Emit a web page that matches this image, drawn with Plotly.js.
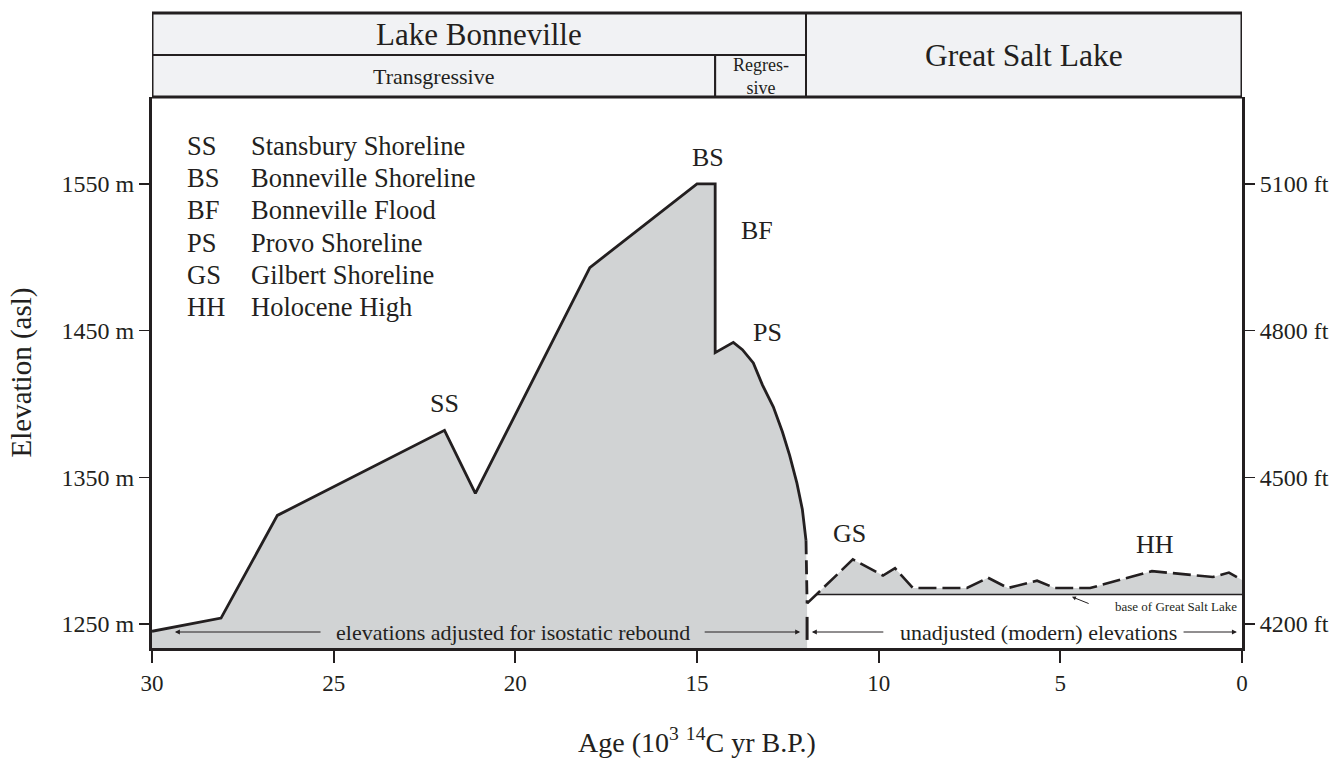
<!DOCTYPE html>
<html><head><meta charset="utf-8">
<script src="https://cdn.plot.ly/plotly-3.0.1.min.js"></script>
<style>body{margin:0;background:#fff}#chart{width:1338px;height:765px}</style>
</head><body><div id="chart"></div>
<script>
// ---------------- data ----------------
const bonnevilleAge  = [30, 28.1, 26.55, 21.95, 21.1, 17.95, 15.0, 14.5, 14.5, 14.0, 13.75, 13.45, 13.2, 12.9, 12.65, 12.45, 12.25, 12.1, 12.0];
const bonnevilleElev = [1245, 1254, 1324, 1382, 1339, 1493, 1550, 1550, 1435, 1442, 1437, 1428, 1413, 1398, 1381, 1365, 1346, 1328, 1307];
const bonnevilleTailAge  = [12.0, 11.98, 11.97];
const bonnevilleTailElev = [1307, 1287, 1264];
const gslAge  = [11.97, 10.71, 9.88, 9.55, 9.06, 7.57, 6.99, 6.44, 5.64, 5.15, 4.18, 2.48, 0.8, 0.36, 0];
const gslElev = [1264, 1294, 1283, 1288, 1274.5, 1274.5, 1281.5, 1274.5, 1279.5, 1274.5, 1274.5, 1286, 1282, 1285, 1280];
const gslBaseElev = 1270;
const xTicks  = [30, 25, 20, 15, 10, 5, 0];
const mTicks  = [1250, 1350, 1450, 1550];
const ftTicks = [4200, 4500, 4800, 5100];
const legendCodes = ['SS', 'BS', 'BF', 'PS', 'GS', 'HH'];
const legendNames = ['Stansbury Shoreline', 'Bonneville Shoreline', 'Bonneville Flood', 'Provo Shoreline', 'Gilbert Shoreline', 'Holocene High'];
const eventLabels = ['SS', 'BS', 'BF', 'PS', 'GS', 'HH'];
const phaseBounds = {lakeStart: 30, regressStart: 14.5, gslStart: 12, end: 0};

// ---------------- layout helpers ----------------
const INK = '#231f20';
const FILL = '#d1d3d4';
const HEAD = '#f1f2f4';
const FONT = 'Liberation Serif';
const yRange = [1233.6, 1609.3];
const m2ft = m => 4200 + (m - 1250) * 3;

const eventPos = [[21.96, 1400], [14.7, 1568], [13.35, 1518.6], [13.05, 1449], [10.79, 1312], [2.4, 1304.5]];

// crossing of GSL curve with base line
const t = (gslBaseElev - gslElev[0]) / (gslElev[1] - gslElev[0]);
const crossX = gslAge[0] + t * (gslAge[1] - gslAge[0]);
const clipX = [crossX].concat(gslAge.slice(1));
const clipY = [gslBaseElev].concat(gslElev.slice(1));

const traces = [
  {x: bonnevilleAge.concat(bonnevilleTailAge.slice(1)), y: bonnevilleElev.concat(bonnevilleTailElev.slice(1)),
   mode: 'lines', line: {width: 0}, fill: 'tozeroy', fillcolor: FILL, hoverinfo: 'skip'},
  {x: [crossX, gslAge[gslAge.length - 1]], y: [gslBaseElev, gslBaseElev], mode: 'lines', line: {width: 0}, hoverinfo: 'skip'},
  {x: clipX, y: clipY, mode: 'lines', line: {width: 0}, fill: 'tonexty', fillcolor: FILL, hoverinfo: 'skip'},
  {x: [crossX, gslAge[gslAge.length - 1]], y: [gslBaseElev, gslBaseElev], mode: 'lines', line: {width: 1.5, color: INK}, hoverinfo: 'skip'},
  {x: bonnevilleAge, y: bonnevilleElev, mode: 'lines', line: {width: 2.8, color: INK}, hoverinfo: 'skip'},
  {x: bonnevilleTailAge, y: bonnevilleTailElev, mode: 'lines', line: {width: 2.8, color: INK, dash: '14px,6px'}, hoverinfo: 'skip'},
  {x: gslAge, y: gslElev, mode: 'lines', line: {width: 2.6, color: INK, dash: '18px,6px'}, hoverinfo: 'skip'},
  {x: [null], y: [null], yaxis: 'y2', mode: 'lines', hoverinfo: 'skip'}
];

const txt = (size) => ({family: FONT, size: size, color: INK});
const annotations = [];
// legend
legendCodes.forEach((c, i) => {
  const yy = 1576 - i * 22;
  annotations.push({x: 29.08, y: yy, xref: 'x', yref: 'y', text: c, showarrow: false, xanchor: 'left', yanchor: 'middle', font: txt(26.5)});
  annotations.push({x: 27.33, y: yy, xref: 'x', yref: 'y', text: legendNames[i], showarrow: false, xanchor: 'left', yanchor: 'middle', font: txt(26.5)});
});
// event labels
eventLabels.forEach((c, i) => {
  annotations.push({x: eventPos[i][0], y: eventPos[i][1], xref: 'x', yref: 'y', text: c, showarrow: false, xanchor: 'center', yanchor: 'middle', font: txt(26)});
});
// header texts
const hdr = (x, y, text, size) => ({x: x, y: y, xref: 'x', yref: 'paper', text: text, showarrow: false, xanchor: 'center', yanchor: 'middle', font: txt(size)});
annotations.push(hdr((phaseBounds.lakeStart + phaseBounds.gslStart) / 2, 1.1143, 'Lake Bonneville', 31));
annotations.push(hdr((phaseBounds.lakeStart + phaseBounds.regressStart) / 2, 1.038, 'Transgressive', 22));
annotations.push(hdr((phaseBounds.regressStart + phaseBounds.gslStart) / 2, 1.038, 'Regres-<br>sive', 18));
annotations.push(hdr((phaseBounds.gslStart + phaseBounds.end) / 2, 1.0762, 'Great Salt Lake', 31.5));
// bottom range notes
const noteY = 1244.5;
annotations.push({x: 20.06, y: noteY, xref: 'x', yref: 'y', text: 'elevations adjusted for isostatic rebound', showarrow: false, xanchor: 'center', yanchor: 'middle', font: txt(22)});
annotations.push({x: 5.59, y: noteY, xref: 'x', yref: 'y', text: 'unadjusted (modern) elevations', showarrow: false, xanchor: 'center', yanchor: 'middle', font: txt(22)});
const arrowSpecs = [[29.37, 25.32], [12.16, 14.83], [11.84, 9.83], [0.14, 1.65]];
arrowSpecs.forEach(a => {
  annotations.push({x: a[0], y: noteY, ax: a[1], ay: noteY, xref: 'x', yref: 'y', axref: 'x', ayref: 'y', text: '', showarrow: true, arrowhead: 2, arrowsize: 1, arrowwidth: 1, arrowcolor: INK});
});
annotations.push({x: 1.83, y: 1262, xref: 'x', yref: 'y', text: 'base of Great Salt Lake', showarrow: false, xanchor: 'center', yanchor: 'middle', font: txt(13)});
annotations.push({x: 4.68, y: 1268.5, ax: 4.18, ay: 1263.5, xref: 'x', yref: 'y', axref: 'x', ayref: 'y', text: '', showarrow: true, arrowhead: 2, arrowsize: 0.8, arrowwidth: 1, arrowcolor: INK});

const shapes = [
  {type: 'rect', xref: 'x', yref: 'paper', x0: phaseBounds.lakeStart, x1: phaseBounds.gslStart, y0: 1.0762, y1: 1.1525, fillcolor: HEAD, line: {color: INK, width: 2}, layer: 'below'},
  {type: 'rect', xref: 'x', yref: 'paper', x0: phaseBounds.lakeStart, x1: phaseBounds.regressStart, y0: 1.0, y1: 1.0762, fillcolor: HEAD, line: {color: INK, width: 2}, layer: 'below'},
  {type: 'rect', xref: 'x', yref: 'paper', x0: phaseBounds.regressStart, x1: phaseBounds.gslStart, y0: 1.0, y1: 1.0762, fillcolor: HEAD, line: {color: INK, width: 2}, layer: 'below'},
  {type: 'rect', xref: 'x', yref: 'paper', x0: phaseBounds.gslStart, x1: phaseBounds.end, y0: 1.0, y1: 1.1525, fillcolor: HEAD, line: {color: INK, width: 2}, layer: 'below'},
  {type: 'rect', xref: 'x', yref: 'paper', x0: phaseBounds.lakeStart, x1: phaseBounds.end, y0: 1.0, y1: 1.1525, line: {color: INK, width: 3}},
  {type: 'line', xref: 'x', yref: 'y', x0: bonnevilleTailAge[2], x1: bonnevilleTailAge[2], y0: 1239.1, y1: 1254.8, line: {color: INK, width: 3}}
];

const layout = {
  width: 1338, height: 765,
  margin: {l: 152, r: 96, t: 97, b: 117},
  paper_bgcolor: '#fff', plot_bgcolor: '#fff',
  showlegend: false,
  font: {family: FONT, color: INK},
  xaxis: {range: [30, 0], tickvals: xTicks, ticktext: xTicks.map(String), ticks: 'outside', ticklen: 12, tickwidth: 2, tickcolor: INK,
          showline: true, linewidth: 3, linecolor: INK, showgrid: false, zeroline: false, tickfont: txt(23),
          title: {text: 'Age (10<sup>3</sup> <sup>14</sup>C yr B.P.)', font: txt(28), standoff: 38}},
  yaxis: {range: yRange, tickvals: mTicks, ticktext: mTicks.map(v => v + ' m'), ticks: 'outside', ticklen: 10, tickwidth: 1.5, tickcolor: INK,
          showline: true, linewidth: 3, linecolor: INK, showgrid: false, zeroline: false, tickfont: txt(24),
          title: {text: 'Elevation (asl)', font: txt(29), standoff: 22}},
  yaxis2: {overlaying: 'y', side: 'right', range: yRange.map(m2ft), tickvals: ftTicks, ticktext: ftTicks.map(v => v + ' ft'), ticks: 'outside', ticklen: 10, tickwidth: 1.5, tickcolor: INK,
          showline: true, linewidth: 3, linecolor: INK, showgrid: false, zeroline: false, tickfont: txt(24)},
  annotations: annotations,
  shapes: shapes
};

Plotly.newPlot('chart', traces, layout, {staticPlot: true, displayModeBar: false});
</script></body></html>
